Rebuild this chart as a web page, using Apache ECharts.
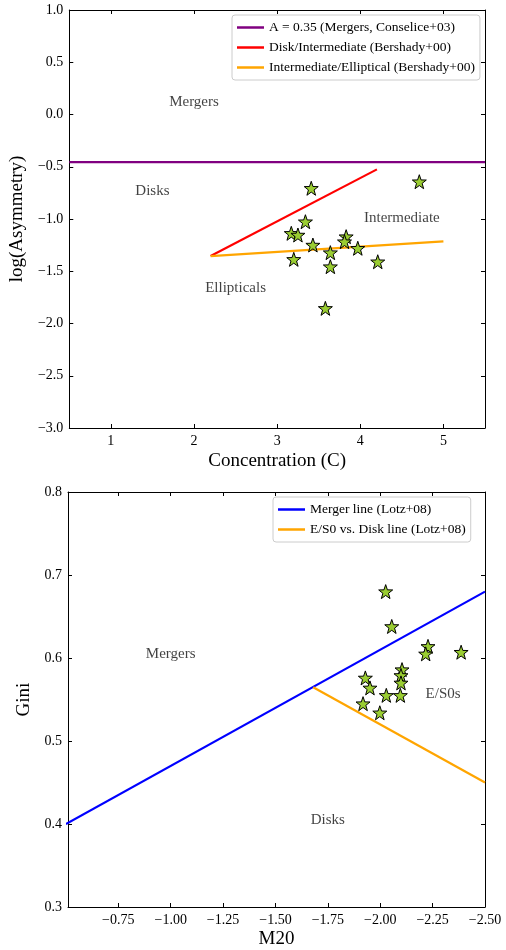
<!DOCTYPE html>
<html>
<head>
<meta charset="utf-8">
<script src="https://cdn.jsdelivr.net/npm/echarts@6/dist/echarts.min.js"></script>
<style>
html,body{margin:0;padding:0;background:#fff;}
#chart{width:506px;height:950px;}
</style>
</head>
<body>
<div id="chart"></div>
<script>
// ---------- Top panel: Concentration vs log(Asymmetry) ----------
const topConc = [3.41, 4.71, 3.34, 3.17, 3.25, 3.83, 3.81, 3.43, 3.97, 3.64, 3.20, 3.64, 4.21, 3.58];
const topLogA = [-0.706, -0.643, -1.026, -1.137, -1.153, -1.169, -1.217, -1.249, -1.280, -1.322, -1.386, -1.456, -1.409, -1.855];
const mergerLineA = [[0.5, -0.456], [5.5, -0.456]];
const diskIntLine = [[2.2, -1.355], [4.2, -0.525]];
const intEllLine = [[2.2, -1.355], [5.0, -1.215]];
const topSeriesNames = ['A = 0.35 (Mergers, Conselice+03)', 'Disk/Intermediate (Bershady+00)', 'Intermediate/Elliptical (Bershady+00)'];
const topRegionNames = ['Mergers', 'Disks', 'Intermediate', 'Ellipticals'];
const topRegionC = [2.0, 1.5, 4.5, 2.5];
const topRegionA = [0.12, -0.73, -0.99, -1.66];
const topXTicks = [1, 2, 3, 4, 5];
const topYTicks = [-3.0, -2.5, -2.0, -1.5, -1.0, -0.5, 0.0, 0.5, 1.0];

// ---------- Bottom panel: M20 vs Gini ----------
const botM20 = [-2.026, -2.055, -2.228, -2.217, -2.386, -2.104, -1.929, -2.099, -2.099, -1.951, -2.029, -2.096, -1.918, -1.998];
const botGini = [0.680, 0.638, 0.614, 0.605, 0.607, 0.586, 0.576, 0.579, 0.570, 0.564, 0.555, 0.555, 0.545, 0.534];
const mergerLineG = [[-0.5, 0.40], [-2.5, 0.68]];
const es0DiskLine = [[-1.68, 0.5648], [-2.5, 0.45]];
const botSeriesNames = ['Merger line (Lotz+08)', 'E/S0 vs. Disk line (Lotz+08)'];
const botRegionNames = ['Mergers', 'E/S0s', 'Disks'];
const botRegionM = [-1.0, -2.30, -1.75];
const botRegionG = [0.605, 0.556, 0.405];
const botXTicks = [-0.75, -1.00, -1.25, -1.50, -1.75, -2.00, -2.25, -2.50];
const botYTicks = [0.3, 0.4, 0.5, 0.6, 0.7, 0.8];

const FONT = 'Liberation Serif';
const MINUS = '\u2212';
const STAR = 'path://M0,-10 L2.35,-3.24 L9.51,-3.09 L3.80,1.24 L5.88,8.09 L0,4 L-5.88,8.09 L-3.80,1.24 L-9.51,-3.09 L-2.35,-3.24 Z';

function fmt(v, d) {
  const s = Math.abs(v).toFixed(d);
  return (v < -1e-9 ? MINUS : '') + s;
}
function onTicks(ticks) {
  return v => ticks.some(t => Math.abs(t - v) < 1e-6);
}

const axisLineStyle = { show: true, onZero: false, lineStyle: { color: '#000', width: 1 } };
const tickStyle = { show: true, inside: true, length: 4, lineStyle: { color: '#000', width: 1 } };
const labelStyle = { color: '#000', fontFamily: FONT, fontSize: 14 };

function mkAxis(o) {
  return Object.assign({
    type: 'value',
    axisLine: axisLineStyle,
    axisTick: tickStyle,
    splitLine: { show: false },
    nameTextStyle: { color: '#000', fontFamily: FONT, fontSize: 19 },
  }, o);
}

const topXOk = onTicks(topXTicks), topYOk = onTicks(topYTicks);
const botXOk = onTicks(botXTicks), botYOk = onTicks(botYTicks);

const xAxes = [
  mkAxis({ gridIndex: 0, position: 'bottom', min: 0.5, max: 5.5, splitNumber: 5,
    name: 'Concentration (C)', nameLocation: 'middle', nameGap: 24,
    axisLabel: Object.assign({ margin: 6, formatter: v => topXOk(v) ? String(Math.round(v)) : '' }, labelStyle) }),
  mkAxis({ gridIndex: 0, position: 'top', min: 0.5, max: 5.5, splitNumber: 5, axisLabel: { show: false } }),
  mkAxis({ gridIndex: 1, position: 'bottom', min: -2.5, max: -0.51, interval: 0.25, inverse: true,
    name: 'M20', nameLocation: 'middle', nameGap: 23,
    axisLabel: Object.assign({ margin: 6, formatter: v => botXOk(v) ? fmt(v, 2) : '' }, labelStyle) }),
  mkAxis({ gridIndex: 1, position: 'top', min: -2.5, max: -0.51, interval: 0.25, inverse: true, axisLabel: { show: false } }),
];
const yAxes = [
  mkAxis({ gridIndex: 0, position: 'left', min: -3, max: 1, interval: 0.5,
    name: 'log(Asymmetry)', nameLocation: 'middle', nameGap: 41,
    axisLabel: Object.assign({ margin: 6, formatter: v => topYOk(v) ? fmt(v, 1) : '' }, labelStyle) }),
  mkAxis({ gridIndex: 0, position: 'right', min: -3, max: 1, interval: 0.5, axisLabel: { show: false } }),
  mkAxis({ gridIndex: 1, position: 'left', min: 0.3, max: 0.8, interval: 0.1,
    name: 'Gini', nameLocation: 'middle', nameGap: 26,
    axisLabel: Object.assign({ margin: 6, formatter: v => botYOk(v) ? fmt(v, 1) : '' }, labelStyle) }),
  mkAxis({ gridIndex: 1, position: 'right', min: 0.3, max: 0.8, interval: 0.1, axisLabel: { show: false } }),
];

function lineSeries(name, data, color, xi, yi) {
  return { type: 'line', name, data, xAxisIndex: xi, yAxisIndex: yi, symbol: 'none', clip: true,
    lineStyle: { color, width: 2.2 }, itemStyle: { color }, z: 3, silent: true };
}
function starSeries(xs, ys, xi, yi) {
  return { type: 'scatter', data: xs.map((x, i) => [x, ys[i]]), xAxisIndex: xi, yAxisIndex: yi,
    symbol: STAR, symbolSize: 14, itemStyle: { color: '#9acd32', borderColor: '#000', borderWidth: 1, opacity: 1 }, z: 5, silent: true };
}
function textSeries(names, xs, ys, xi, yi) {
  return { type: 'scatter', data: names.map((n, i) => ({ name: n, value: [xs[i], ys[i]] })), xAxisIndex: xi, yAxisIndex: yi,
    symbolSize: 0, silent: true, z: 6,
    label: { show: true, position: 'inside', formatter: p => p.name, color: '#111', fontFamily: FONT, fontSize: 15 } };
}

const legendCommon = {
  orient: 'vertical', icon: 'rect', itemWidth: 27, itemHeight: 2.5, itemGap: 5,
  backgroundColor: 'rgba(255,255,255,0.85)', borderColor: '#cccccc', borderWidth: 1, borderRadius: 3,
  padding: [5, 5, 5, 5],
  textStyle: { color: '#000', fontFamily: FONT, fontSize: 13.5, lineHeight: 15 },
  selectedMode: false,
};

const option = {
  backgroundColor: '#ffffff',
  animation: false,
  grid: [
    { left: 68, top: 10, width: 417, height: 418 },
    { left: 68, top: 492, width: 417, height: 416 },
  ],
  xAxis: xAxes,
  yAxis: yAxes,
  legend: [
    Object.assign({ left: 232, top: 15, data: topSeriesNames }, legendCommon),
    Object.assign({ left: 273, top: 497, data: botSeriesNames }, legendCommon),
  ],
  series: [
    lineSeries(topSeriesNames[0], mergerLineA, '#800080', 0, 0),
    lineSeries(topSeriesNames[1], diskIntLine, '#ff0000', 0, 0),
    lineSeries(topSeriesNames[2], intEllLine, '#ffa500', 0, 0),
    starSeries(topConc, topLogA, 0, 0),
    textSeries(topRegionNames, topRegionC, topRegionA, 0, 0),
    lineSeries(botSeriesNames[0], mergerLineG, '#0000ff', 2, 2),
    lineSeries(botSeriesNames[1], es0DiskLine, '#ffa500', 2, 2),
    starSeries(botM20, botGini, 2, 2),
    textSeries(botRegionNames, botRegionM, botRegionG, 2, 2),
  ],
};

const chart = echarts.init(document.getElementById('chart'), null, { renderer: 'canvas' });
chart.setOption(option);
</script>
</body>
</html>
